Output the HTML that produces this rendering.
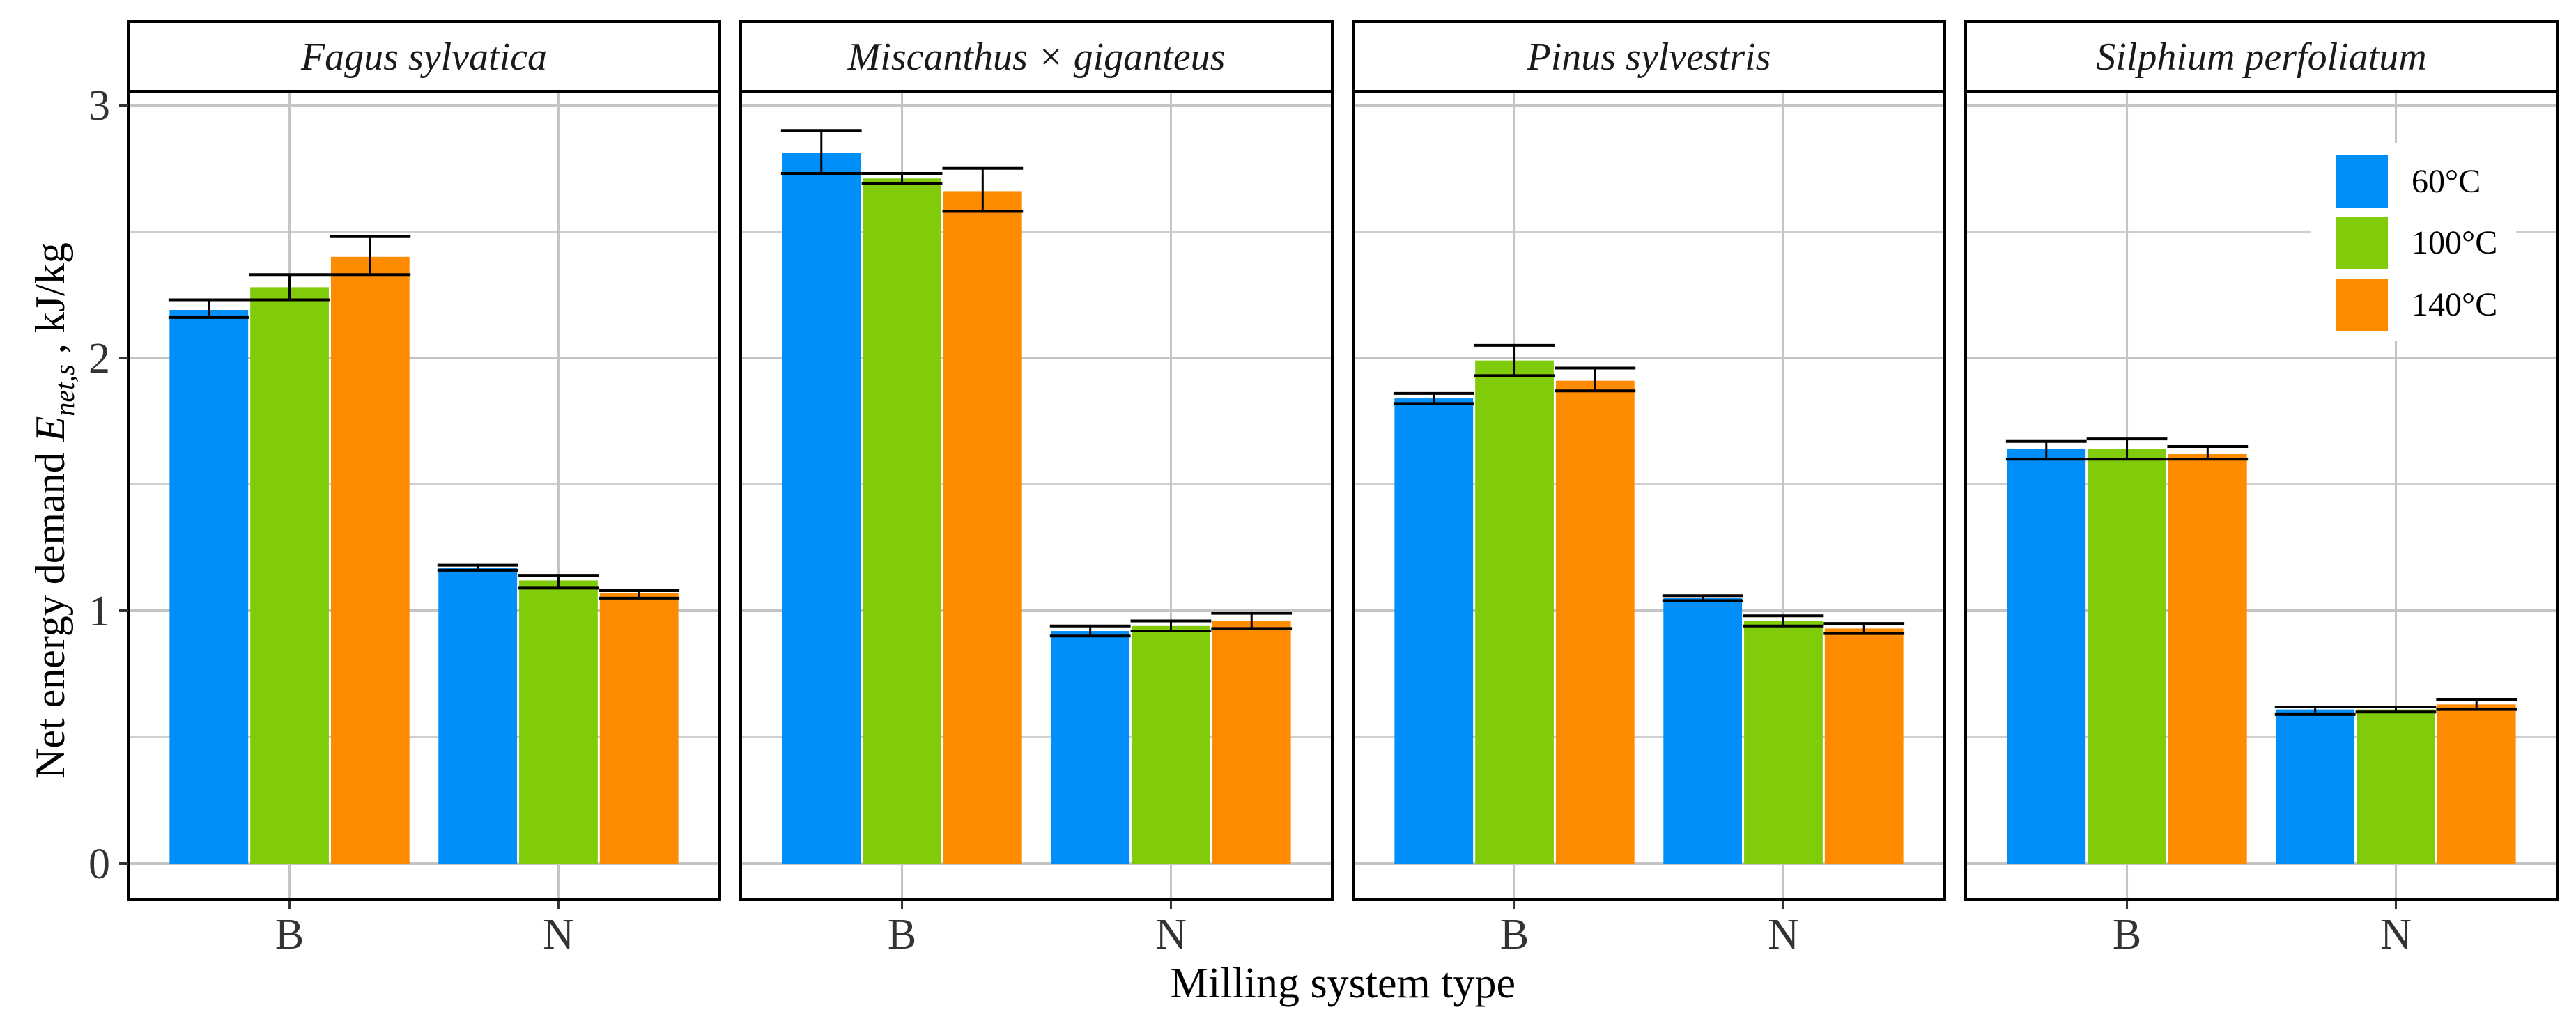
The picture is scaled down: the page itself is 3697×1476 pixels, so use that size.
<!DOCTYPE html>
<html><head><meta charset="utf-8"><style>
html,body{margin:0;padding:0;background:#fff}
svg{display:block}
text{font-family:"Liberation Serif",serif}
</style></head><body>
<svg id="chart" width="3697" height="1476" viewBox="0 0 3697 1476" xmlns="http://www.w3.org/2000/svg">
<g id="panels"></g>
<text x="1927" y="1432" font-size="62" text-anchor="middle" fill="#000">Milling system type</text>
<text transform="translate(92,1118) rotate(-90)" font-size="60" fill="#000">Net energy demand <tspan font-style="italic">E</tspan><tspan font-style="italic" font-size="40" dy="14">net,s</tspan><tspan dy="-14"> , kJ/kg</tspan></text>
<g>
<rect x="3316" y="205" width="295" height="285" fill="#fff"/>
<rect x="3352" y="223" width="75" height="75" fill="#008ff8"/>
<rect x="3352" y="311" width="75" height="75" fill="#80cc0a"/>
<rect x="3352" y="400" width="75" height="75" fill="#ff8c00"/>
<text x="3461" y="276" font-size="48">60°C</text>
<text x="3461" y="364" font-size="48">100°C</text>
<text x="3461" y="453" font-size="48">140°C</text>
</g>
</svg>
<script>
const species = ["Fagus sylvatica","Miscanthus × giganteus","Pinus sylvestris","Silphium perfoliatum"];
const mills = ["B","N"];
const temps = ["60°C","100°C","140°C"];
const colors = ["#008ff8","#80cc0a","#ff8c00"];
// values[species][mill][temp]
const values = [
 [[2.19,2.28,2.40],[1.17,1.12,1.07]],
 [[2.81,2.71,2.66],[0.92,0.94,0.96]],
 [[1.84,1.99,1.91],[1.05,0.96,0.93]],
 [[1.64,1.64,1.62],[0.61,0.61,0.63]]
];
const lows = [
 [[2.16,2.23,2.33],[1.16,1.09,1.05]],
 [[2.73,2.69,2.58],[0.90,0.92,0.93]],
 [[1.82,1.93,1.87],[1.04,0.94,0.91]],
 [[1.60,1.60,1.60],[0.59,0.60,0.61]]
];
const highs = [
 [[2.23,2.33,2.48],[1.18,1.14,1.08]],
 [[2.90,2.73,2.75],[0.94,0.96,0.99]],
 [[1.86,2.05,1.96],[1.06,0.98,0.95]],
 [[1.67,1.68,1.65],[0.62,0.62,0.65]]
];
const yTicks = [0,1,2,3];
const yMinor = [0.5,1.5,2.5];

const NS="http://www.w3.org/2000/svg";
const g=document.getElementById('panels');
const panelLeft=[184,1063,1942,2821], panelW=849;
const plotTop=131, plotBot=1292, stripTop=31;
function y(v){return 1240 - v*363;}
function xPos(p,i){return panelLeft[p] + panelW*(i+1-0.4)/2.2;}
const unit=panelW/2.2;
function mk(tag,attrs){const e=document.createElementNS(NS,tag);for(const k in attrs)e.setAttribute(k,attrs[k]);g.appendChild(e);return e;}

species.forEach((sp,p)=>{
  const L=panelLeft[p], R=L+panelW;
  const bg=mk('rect',{x:L,y:plotTop,width:panelW,height:plotBot-plotTop,fill:'#fff'});
  
  
  yMinor.forEach(v=>{const l=mk('line',{x1:L,x2:R,y1:y(v),y2:y(v),stroke:'#cfcfcf','stroke-width':3});
    
    });
  yTicks.forEach(v=>{const l=mk('line',{x1:L,x2:R,y1:y(v),y2:y(v),stroke:'#c4c4c4','stroke-width':4});
    
    });
  mills.forEach((m,i)=>{const cx=xPos(p,i);
    const l=mk('line',{x1:cx,x2:cx,y1:plotTop,y2:plotBot,stroke:'#c4c4c4','stroke-width':3});
    
    
    const t=mk('line',{x1:cx,x2:cx,y1:plotBot,y2:plotBot+13,stroke:'#333','stroke-width':3});
    
    
    const tl=mk('text',{x:cx,y:1362,'font-size':62,'text-anchor':'middle',fill:'#333'});
    tl.textContent=m;
    
    
    temps.forEach((tp,k)=>{
      const bw=0.3*unit;
      const bx=cx-0.45*unit+k*bw;
      const v=values[p][i][k];
      const b=mk('rect',{x:bx+1.5,y:y(v),width:bw-3,height:y(0)-y(v),fill:colors[k]});
      
      
      const mx=bx+bw/2, lo=y(lows[p][i][k]), hi=y(highs[p][i][k]);
      const e1=mk('line',{x1:mx,x2:mx,y1:hi,y2:lo,stroke:'#000','stroke-width':3});
      
      
      const e2=mk('line',{x1:bx,x2:bx+bw,y1:hi,y2:hi,stroke:'#000','stroke-width':4});
      
      
      const e3=mk('line',{x1:bx,x2:bx+bw,y1:lo,y2:lo,stroke:'#000','stroke-width':4});
      
      
    });
  });
  const border=mk('rect',{x:L,y:plotTop,width:panelW,height:plotBot-plotTop,fill:'none',stroke:'#000','stroke-width':4});
  
  
  const strip=mk('rect',{x:L,y:stripTop,width:panelW,height:plotTop-stripTop,fill:'#fff',stroke:'#000','stroke-width':4});
  
  
  const st=mk('text',{x:L+panelW/2,y:100,'font-size':56,'font-style':'italic','text-anchor':'middle',fill:'#1a1a1a'});
  st.textContent=sp;
  
  
});
yTicks.forEach(v=>{
  const t=mk('line',{x1:171,x2:184,y1:y(v),y2:y(v),stroke:'#333','stroke-width':4});
  
  
  const tl=mk('text',{x:158,y:y(v)+21,'font-size':62,'text-anchor':'end',fill:'#333'});
  tl.textContent=v;
  
  
});
</script>
</body></html>
